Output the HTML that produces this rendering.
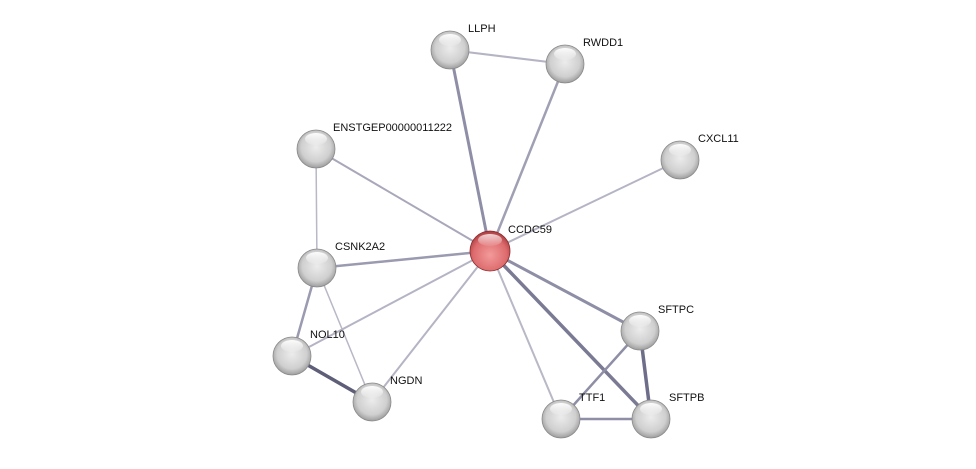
<!DOCTYPE html>
<html><head><meta charset="utf-8"><style>
html,body{margin:0;padding:0;background:#fff;}
svg text{font-family:"Liberation Sans",sans-serif;font-size:11px;fill:#111;}
</style></head><body>
<svg width="976" height="464" viewBox="0 0 976 464" xmlns="http://www.w3.org/2000/svg">
<defs>
<radialGradient id="g" cx="0.5" cy="0.45" r="0.6">
<stop offset="0" stop-color="#ececec"/><stop offset="0.65" stop-color="#cfcfcf"/><stop offset="1" stop-color="#8e8e8e"/>
</radialGradient>
<radialGradient id="r" cx="0.5" cy="0.6" r="0.6">
<stop offset="0" stop-color="#f39a9a"/><stop offset="0.7" stop-color="#dd6b6d"/><stop offset="1" stop-color="#a83a3d"/>
</radialGradient>
<linearGradient id="h" x1="0" y1="0" x2="0" y2="1">
<stop offset="0" stop-color="#fff" stop-opacity="0.95"/><stop offset="1" stop-color="#fff" stop-opacity="0.1"/>
</linearGradient>
<g id="n"><circle r="19" fill="url(#g)" stroke="#8a8a8a" stroke-width="0.8"/><ellipse cx="0" cy="-10" rx="11" ry="6" fill="url(#h)"/></g>
<g id="nr"><circle r="20" fill="url(#r)" stroke="#8a2a2d" stroke-width="0.8"/><ellipse cx="0" cy="-11" rx="12" ry="6" fill="url(#h)" opacity="0.8"/></g>
</defs>
<g stroke-linecap="round">
<line x1="450" y1="50" x2="565" y2="64" stroke="#b4b4c4" stroke-width="2"/>
<line x1="450" y1="50" x2="490" y2="251" stroke="#8e8ea6" stroke-width="3"/>
<line x1="565" y1="64" x2="490" y2="251" stroke="#a0a0b4" stroke-width="2.5"/>
<line x1="316" y1="149" x2="490" y2="251" stroke="#a8a8ba" stroke-width="2"/>
<line x1="316" y1="149" x2="317" y2="268" stroke="#b8b8c6" stroke-width="1.5"/>
<line x1="680" y1="160" x2="490" y2="251" stroke="#b4b4c4" stroke-width="2"/>
<line x1="317" y1="268" x2="490" y2="251" stroke="#9a9ab0" stroke-width="2.5"/>
<line x1="317" y1="268" x2="292" y2="356" stroke="#9a9ab0" stroke-width="2.5"/>
<line x1="317" y1="268" x2="372" y2="402" stroke="#b8b8c6" stroke-width="1.5"/>
<line x1="292" y1="356" x2="490" y2="251" stroke="#b4b4c4" stroke-width="2"/>
<line x1="292" y1="356" x2="372" y2="402" stroke="#5e5e78" stroke-width="3.5"/>
<line x1="372" y1="402" x2="490" y2="251" stroke="#b4b4c4" stroke-width="2"/>
<line x1="490" y1="251" x2="640" y2="331" stroke="#8e8ea6" stroke-width="3"/>
<line x1="490" y1="251" x2="651" y2="419" stroke="#7a7a94" stroke-width="3.5"/>
<line x1="490" y1="251" x2="561" y2="419" stroke="#b8b8c6" stroke-width="2"/>
<line x1="640" y1="331" x2="651" y2="419" stroke="#6e6e8a" stroke-width="3.5"/>
<line x1="640" y1="331" x2="561" y2="419" stroke="#8e8ea6" stroke-width="2.5"/>
<line x1="561" y1="419" x2="651" y2="419" stroke="#8e8ea6" stroke-width="2.5"/>
</g>
<use href="#n" x="450" y="50"/><use href="#n" x="565" y="64"/>
<use href="#n" x="316" y="149"/><use href="#n" x="680" y="160"/>
<use href="#n" x="317" y="268"/><use href="#n" x="640" y="331"/>
<use href="#n" x="292" y="356"/><use href="#n" x="372" y="402"/>
<use href="#n" x="561" y="419"/><use href="#n" x="651" y="419"/>
<use href="#nr" x="490" y="251"/>
<text x="468" y="32">LLPH</text>
<text x="583" y="46">RWDD1</text>
<text x="333" y="131">ENSTGEP00000011222</text>
<text x="698" y="142">CXCL11</text>
<text x="508" y="233">CCDC59</text>
<text x="335" y="250">CSNK2A2</text>
<text x="658" y="313">SFTPC</text>
<text x="310" y="338">NOL10</text>
<text x="390" y="384">NGDN</text>
<text x="579" y="401">TTF1</text>
<text x="669" y="401">SFTPB</text>
</svg>
</body></html>
